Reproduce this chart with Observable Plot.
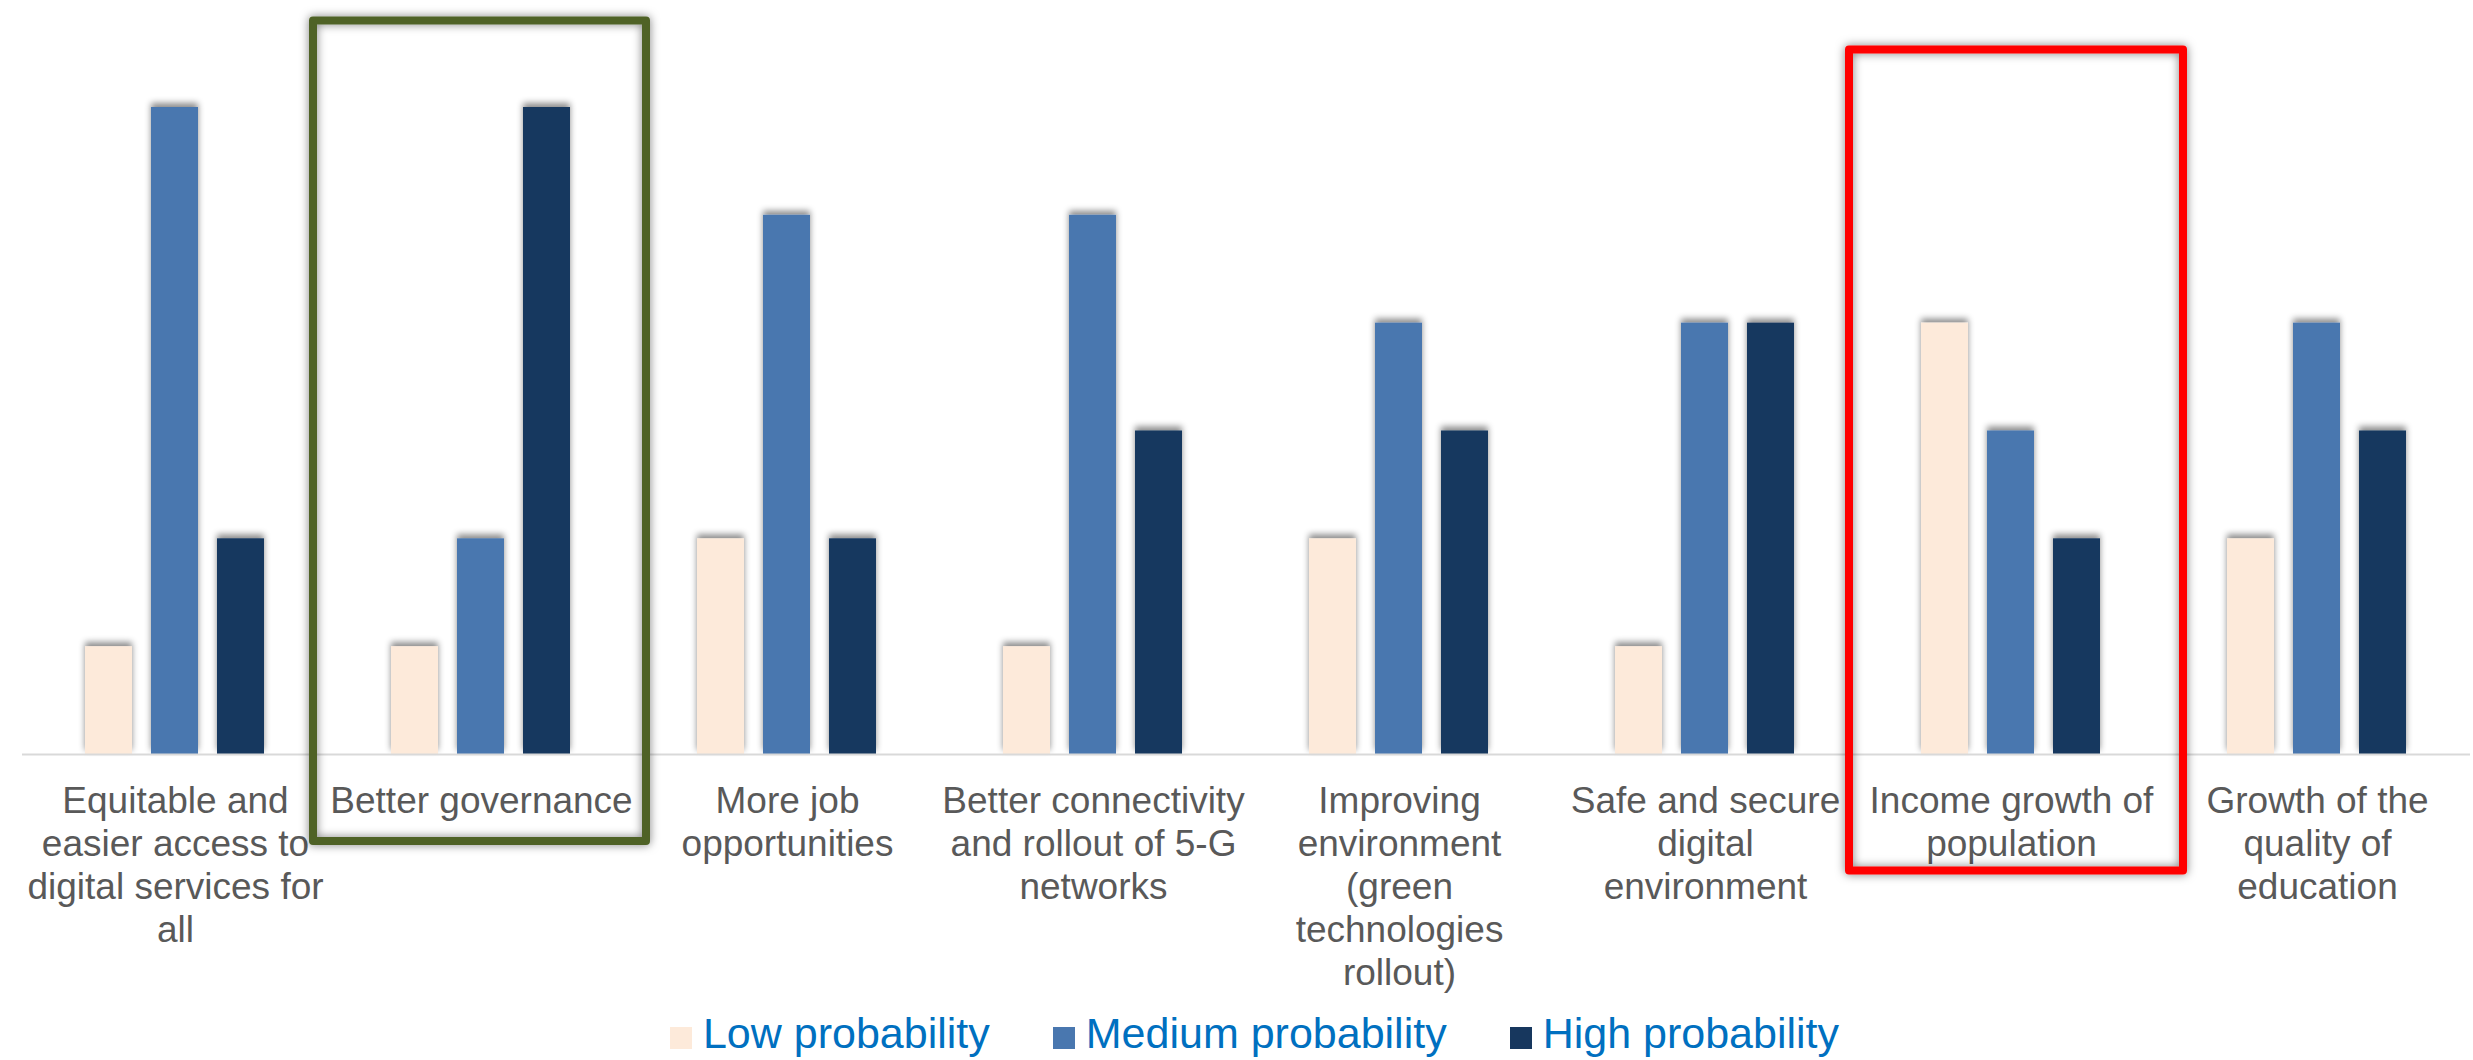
<!DOCTYPE html>
<html>
<head>
<meta charset="utf-8">
<script src="https://cdn.jsdelivr.net/npm/d3@7"></script>
<script src="https://cdn.jsdelivr.net/npm/@observablehq/plot@0.6"></script>
<style>
  html, body { margin: 0; padding: 0; background: #fff; overflow: hidden; }
  #chart svg { display: block; }
  #legend { display: flex; justify-content: center; gap: 63px; margin-top: 5px; padding-left: 36px;
            font-family: "Liberation Sans", Arial, sans-serif; font-size: 43px; line-height: 47px; color: #0070C0; }
  #legend .item { display: flex; align-items: center; }
  #legend .sw { width: 22px; height: 22px; margin-right: 11px; position: relative; top: 4px; }
</style>
</head>
<body>
<div id="chart"></div>
<div id="legend"></div>
<script>
const categories = [
  "Equitable and easier access to digital services for all",
  "Better governance",
  "More job opportunities",
  "Better connectivity and rollout of 5-G networks",
  "Improving environment (green technologies rollout)",
  "Safe and secure digital environment",
  "Income growth of population",
  "Growth of the quality of education"
];
const tickLabels = [
  "Equitable and\neasier access to\ndigital services for\nall",
  "Better governance",
  "More job\nopportunities",
  "Better connectivity\nand rollout of 5-G\nnetworks",
  "Improving\nenvironment\n(green\ntechnologies\nrollout)",
  "Safe and secure\ndigital\nenvironment",
  "Income growth of\npopulation",
  "Growth of the\nquality of\neducation"
];
const seriesNames = ["Low probability", "Medium probability", "High probability"];
const low    = [1, 1, 2, 1, 2, 1, 4, 2];
const medium = [6, 2, 5, 5, 4, 4, 3, 4];
const high   = [2, 6, 2, 3, 3, 4, 2, 3];
const seriesColors = ["#FDEADA", "#4977AF", "#17375E"];
const highlightGreen = ["Better governance"];
const highlightRed = ["Income growth of population"];

const seriesValues = [low, medium, high];
const data = categories.flatMap((c, i) =>
  seriesNames.map((s, j) => ({category: c, series: s, value: seriesValues[j][i]}))
);

const chart = Plot.plot({
  width: 2473,
  height: 1005,
  marginLeft: 19,
  marginRight: 0,
  marginTop: 107,
  marginBottom: 251,
  style: {fontFamily: "'Liberation Sans', Arial, sans-serif", fontSize: "37px", background: "#fff", overflow: "visible"},
  fx: {domain: categories, padding: 0, label: null},
  x: {domain: seriesNames, paddingInner: 0.2836, paddingOuter: 0.931, axis: null},
  y: {domain: [0, 6], axis: null},
  color: {domain: seriesNames, range: seriesColors},
  marks: [
    Plot.barY(data, {fx: "category", x: "series", y: "value", fill: "series"}),
    Plot.ruleY([0], {stroke: "#D9D9D9", strokeWidth: 2}),
    Plot.axisFx({
      anchor: "bottom", lineAnchor: "top",
      tickSize: 0, tickPadding: 28, label: null,
      tickFormat: c => tickLabels[categories.indexOf(c)],
      fontSize: 37, lineHeight: 1.162, fill: "#595959"
    }),
    Plot.rect(highlightGreen, {
      fx: d => d, fill: "none", stroke: "#4F6228", strokeWidth: 8, strokeLinejoin: "round",
      insetTop: -86.5, insetBottom: -87, insetLeft: -15, insetRight: -12
    }),
    Plot.rect(highlightRed, {
      fx: d => d, fill: "none", stroke: "#FF0000", strokeWidth: 8, strokeLinejoin: "round",
      insetTop: -57.5, insetBottom: -116.5, insetLeft: -9, insetRight: -19
    })
  ]
});

document.getElementById("chart").appendChild(chart);

// shadows
const svg = d3.select(chart);
const defs = svg.insert("defs", ":first-child");
const f1 = defs.append("filter").attr("id", "barShadow").attr("x", "-50%").attr("y", "-50%").attr("width", "200%").attr("height", "200%");
f1.append("feDropShadow").attr("dx", 0).attr("dy", -4).attr("stdDeviation", 3).attr("flood-color", "#000").attr("flood-opacity", 0.45);
const f2 = defs.append("filter").attr("id", "boxShadow").attr("x", "-20%").attr("y", "-20%").attr("width", "140%").attr("height", "140%");
f2.append("feDropShadow").attr("dx", 0).attr("dy", 0).attr("stdDeviation", 5).attr("flood-color", "#000").attr("flood-opacity", 0.5);
svg.selectAll('g[aria-label="bar"] rect').attr("filter", "url(#barShadow)");
svg.selectAll('g[aria-label="rect"] rect').attr("filter", "url(#boxShadow)");
svg.selectAll('g[aria-label="fx-axis tick label"] text').attr("fill", "#595959");

// legend
const legend = d3.select("#legend");
seriesNames.forEach((s, i) => {
  const item = legend.append("div").attr("class", "item");
  item.append("span").attr("class", "sw").style("background", seriesColors[i]);
  item.append("span").text(s);
});
</script>
</body>
</html>
